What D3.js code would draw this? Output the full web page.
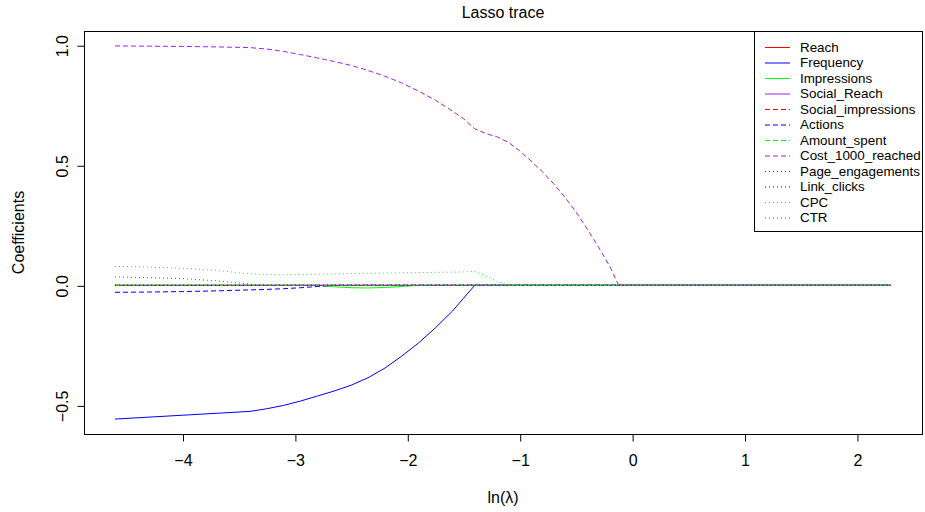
<!DOCTYPE html>
<html>
<head>
<meta charset="utf-8">
<script src="https://cdn.jsdelivr.net/npm/d3@7"></script>
<style>
  html, body { margin: 0; padding: 0; background: #fff; }
  svg { display: block; font-family: "Liberation Sans", Arial, Helvetica, sans-serif; }
</style>
</head>
<body>
<svg id="chart" width="925" height="512"></svg>
<script>
// ln(lambda) grid along the regularisation path
const logLambda = [-4.6, -4.3, -4.0, -3.7, -3.4, -3.25, -3.1, -2.95, -2.8, -2.65,
                   -2.5, -2.35, -2.2, -2.05, -1.9, -1.75, -1.6, -1.5, -1.4, -1.3,
                   -1.2, -1.1, -1.0, -0.9, -0.8, -0.7, -0.6, -0.5, -0.4, -0.3,
                   -0.2, -0.12, 0.5, 1.0, 1.5, 2.0, 2.3026];

// coefficient paths, one value per grid point
const reach             = [0,0,0,0,0,0,0,0,0,0, 0,0,0,0,0,0,0,0,0,0, 0,0,0,0,0,0,0,0,0,0, 0,0,0,0,0,0,0];
const frequency         = [-0.557,-0.549,-0.541,-0.533,-0.525,-0.514,-0.500,-0.482,-0.461,-0.440,
                           -0.416,-0.385,-0.345,-0.295,-0.240,-0.177,-0.108,-0.054,0,0,
                           0,0,0,0,0,0,0,0,0,0, 0,0,0,0,0,0,0];
const impressions       = [0,0,0,0,0,0,0,0,0,-0.006,
                           -0.010,-0.011,-0.009,-0.005,0,0,0,0,0,0,
                           0,0,0,0,0,0,0,0,0,0, 0,0,0,0,0,0,0];
const socialReach       = [0,0,0,0,0,0,0,0,0,0, 0,0,0,0,0,0,0,0,0,0, 0,0,0,0,0,0,0,0,0,0, 0,0,0,0,0,0,0];
const socialImpressions = [0,0,0,0,0,0,0,0,0,0, 0,0,0,0,0,0,0,0,0,0, 0,0,0,0,0,0,0,0,0,0, 0,0,0,0,0,0,0];
const actions           = [-0.029,-0.028,-0.026,-0.023,-0.019,-0.017,-0.014,-0.010,-0.005,0,
                           0,0,0,0,0,0,0,0,0,0, 0,0,0,0,0,0,0,0,0,0, 0,0,0,0,0,0,0];
const amountSpent       = [0,0,0,0,0,0,0,0,0,0, 0,0,0,0,0,0,0,0,0,0, 0,0,0,0,0,0,0,0,0,0, 0,0,0,0,0,0,0];
const cost1000Reached   = [0.997,0.996,0.995,0.993,0.990,0.984,0.974,0.961,0.947,0.932,
                           0.916,0.895,0.871,0.843,0.809,0.771,0.726,0.694,0.652,0.632,
                           0.618,0.595,0.560,0.518,0.474,0.424,0.368,0.306,0.235,0.160,
                           0.080,0,0,0,0,0,0];
const pageEngagements   = [0,0,0,0,0,0,0,0,0,0, 0,0,0,0,0,0,0,0,0,0, 0,0,0,0,0,0,0,0,0,0, 0,0,0,0,0,0,0];
const linkClicks        = [0,0,0,0,0,0,0,0,0,0, 0,0,0,0,0,0,0,0,0,0, 0,0,0,0,0,0,0,0,0,0, 0,0,0,0,0,0,0];
const cpc               = [0.079,0.076,0.071,0.062,0.048,0.045,0.044,0.045,0.046,0.048,
                           0.049,0.050,0.051,0.052,0.053,0.054,0.055,0.056,0.058,0.038,
                           0.016,0,0,0,0,0,0,0,0,0, 0,0,0,0,0,0,0];
const ctr               = [0.035,0.032,0.028,0.019,0.005,0,0,0,0,0,
                           0,0,0,0,0,0,0,0,0,0, 0,0,0,0,0,0,0,0,0,0, 0,0,0,0,0,0,0];

const seriesNames = ["Reach","Frequency","Impressions","Social_Reach","Social_impressions","Actions",
                     "Amount_spent","Cost_1000_reached","Page_engagements","Link_clicks","CPC","CTR"];
const seriesValues = [reach, frequency, impressions, socialReach, socialImpressions, actions,
                      amountSpent, cost1000Reached, pageEngagements, linkClicks, cpc, ctr];

const xTicks = [-4, -3, -2, -1, 0, 1, 2];
const yTicks = [-0.5, 0.0, 0.5, 1.0];

const titleText = "Lasso trace";
const xLabel = "ln(\u03BB)";
const yLabel = "Coefficients";

// styling: colours cycle over 4, line type changes every 4 series
const palette = ["#FF0000", "#0000FF", "#00FF00", "#A020F0"];
const dashes = [null, "5,3", "1,3"];

const svg = d3.select("#chart");
const plotLeft = 84, plotRight = 922, plotTop = 31, plotBottom = 434;

// 4% padding on both axes, as in base graphics
function padded(ext) {
  const d = (ext[1] - ext[0]) * 0.04;
  return [ext[0] - d, ext[1] + d];
}
const allY = seriesValues.flat();
const x = d3.scaleLinear().domain(padded(d3.extent(logLambda))).range([plotLeft, plotRight]);
const y = d3.scaleLinear().domain(padded(d3.extent(allY))).range([plotBottom, plotTop]);

// clip to plot region
svg.append("defs").append("clipPath").attr("id", "plotclip")
  .append("rect").attr("x", plotLeft).attr("y", plotTop)
  .attr("width", plotRight - plotLeft).attr("height", plotBottom - plotTop);

const line = d3.line().x((d, i) => x(logLambda[i])).y(d => y(d));

const g = svg.append("g").attr("clip-path", "url(#plotclip)");
seriesValues.forEach((vals, k) => {
  g.append("path")
    .datum(vals)
    .attr("d", line)
    .attr("fill", "none")
    .attr("stroke", palette[k % 4])
    .attr("stroke-width", 1)
    .attr("stroke-dasharray", dashes[Math.floor(k / 4)]);
});

// box
svg.append("rect")
  .attr("x", plotLeft + 0.5).attr("y", plotTop + 0.5)
  .attr("width", plotRight - plotLeft).attr("height", plotBottom - plotTop)
  .attr("fill", "none").attr("stroke", "#000").attr("stroke-width", 1);

const tickFont = 16, labelFont = 16, titleFont = 16, legendFont = 13.4;

// x axis
const xAxis = d3.axisBottom(x).tickValues(xTicks).tickSize(7).tickPadding(13)
  .tickFormat(d => d3.format("d")(d).replace("-", "\u2212"));
const gx = svg.append("g").attr("transform", `translate(0.5,${plotBottom + 0.5})`).call(xAxis);
gx.select(".domain").attr("d", `M${x(xTicks[0])},0H${x(xTicks[xTicks.length - 1])}`).attr("stroke", "#000");
gx.selectAll(".tick line").attr("stroke", "#000");
gx.selectAll("text").attr("font-size", tickFont).attr("fill", "#000").attr("font-family", "Liberation Sans, Arial, sans-serif");

// y axis with rotated labels
const yAxis = d3.axisLeft(y).tickValues(yTicks).tickSize(7).tickFormat(d => d3.format(".1f")(d).replace("-", "\u2212"));
const gy = svg.append("g").attr("transform", `translate(${plotLeft + 0.5},0.5)`).call(yAxis);
gy.select(".domain").attr("d", `M0,${y(yTicks[0])}V${y(yTicks[yTicks.length - 1])}`).attr("stroke", "#000");
gy.selectAll(".tick line").attr("stroke", "#000");
gy.selectAll("text")
  .attr("font-size", tickFont).attr("fill", "#000").attr("font-family", "Liberation Sans, Arial, sans-serif")
  .attr("x", null).attr("dy", null)
  .attr("text-anchor", "middle")
  .attr("transform", "translate(-17,0) rotate(-90)");

// titles
svg.append("text").attr("x", (plotLeft + plotRight) / 2).attr("y", 18)
  .attr("text-anchor", "middle").attr("font-size", titleFont).text(titleText);
svg.append("text").attr("x", (plotLeft + plotRight) / 2).attr("y", 503)
  .attr("text-anchor", "middle").attr("font-size", labelFont).text(xLabel);
svg.append("text").attr("transform", `translate(24,${(plotTop + plotBottom) / 2}) rotate(-90)`)
  .attr("text-anchor", "middle").attr("font-size", labelFont).text(yLabel);

// legend, top-right corner
const legX = 754, legY = plotTop, legW = plotRight - legX, rowH = 15.5;
const legH = seriesNames.length * rowH + 14;
const leg = svg.append("g");
leg.append("rect").attr("x", legX + 0.5).attr("y", legY + 0.5).attr("width", legW).attr("height", legH)
  .attr("fill", "#fff").attr("stroke", "#000").attr("stroke-width", 1);
seriesNames.forEach((name, k) => {
  const cy = legY + 16 + k * rowH;
  leg.append("line").attr("x1", 765).attr("x2", 790).attr("y1", cy + 0.5).attr("y2", cy + 0.5)
    .attr("stroke", palette[k % 4]).attr("stroke-width", 1)
    .attr("stroke-dasharray", dashes[Math.floor(k / 4)]);
  leg.append("text").attr("x", 800).attr("y", cy).attr("dy", "0.35em")
    .attr("font-size", legendFont).text(name);
});
</script>
</body>
</html>
